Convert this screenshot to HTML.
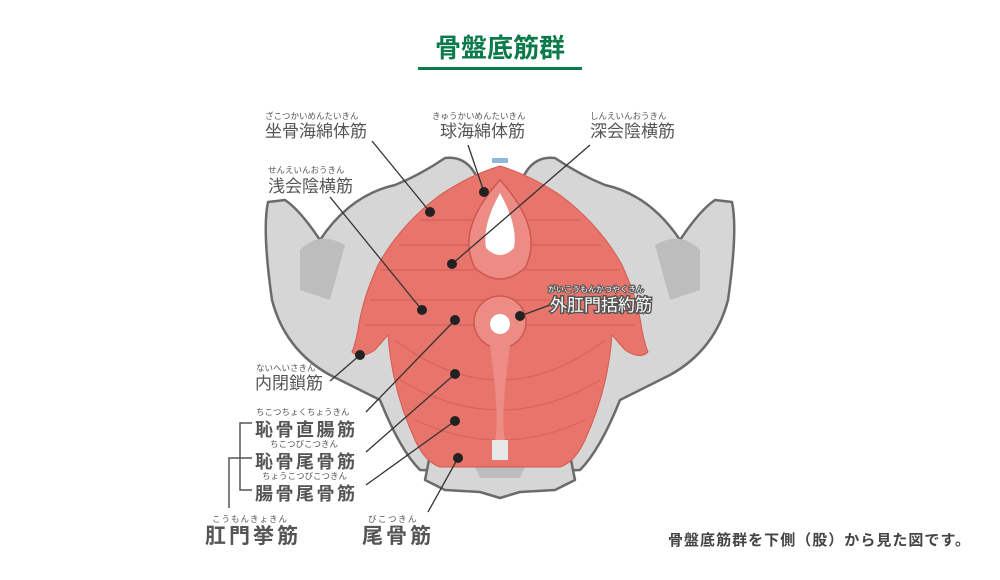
<!DOCTYPE html>
<html><head><meta charset="utf-8"><style>
html,body{margin:0;padding:0;background:#fff;}
svg{display:block;font-family:"Liberation Sans","Noto Sans CJK JP",sans-serif;}
</style></head><body>
<svg width="1000" height="580" viewBox="0 0 1000 580" xmlns="http://www.w3.org/2000/svg">
<text x="500" y="57" text-anchor="middle" font-size="26" font-weight="bold" fill="#0b7a4b">骨盤底筋群</text>
<rect x="418" y="67" width="164" height="3" fill="#0b7a4b"/>

<!-- bones -->
<g fill="#d6d6d6" stroke="#6b6b6b" stroke-width="2.5" stroke-linejoin="round">
  <path d="M268,202 Q262,230 272,300 Q285,350 330,375 L380,400 Q400,450 420,470 L470,472 L470,440 L400,300 L420,230 L480,185 Q470,155 445,158 Q420,175 395,185 Q350,195 320,240 Q300,210 285,200 Z"/>
  <path d="M732,202 Q738,230 728,300 Q715,350 670,375 L620,400 Q600,450 580,470 L530,472 L530,440 L600,300 L580,230 L520,185 Q530,155 555,158 Q580,175 605,185 Q650,195 680,240 Q700,210 715,200 Z"/>
  <path d="M430,455 L570,455 L575,480 L555,490 L520,492 L500,498 L480,492 L445,490 L425,480 Z"/>
</g>
<g fill="#bdbdbd" stroke="none">
  <path d="M300,250 Q320,230 345,245 L330,300 L300,290 Z"/>
  <path d="M700,250 Q680,230 655,245 L670,300 L700,290 Z"/>
  <path d="M470,455 L530,455 L520,478 L480,478 Z"/>
</g>
<rect x="492" y="158" width="16" height="5" fill="#8fb8d8"/>

<!-- muscle -->
<path d="M500,166 Q470,175 440,195 Q400,225 378,265 Q362,300 358,330 Q355,345 352,352 Q360,360 375,350 L388,335 Q392,390 415,440 Q425,462 440,467 L560,467 Q575,462 585,440 Q608,390 612,335 L625,350 Q640,360 648,352 Q645,345 642,330 Q638,300 622,265 Q600,225 560,195 Q530,175 500,166 Z" fill="#e8756c" stroke="#d65a50" stroke-width="1"/>
<g fill="none" stroke="#d45a52" stroke-width="1.2" opacity="0.7">
  <path d="M380,270 L620,270"/><path d="M370,300 L630,300"/><path d="M365,325 L635,325"/>
  <path d="M395,340 Q500,420 605,340"/><path d="M400,380 Q500,440 600,380"/><path d="M415,420 Q500,460 585,420"/>
  <path d="M420,220 L580,220"/><path d="M400,245 L600,245"/>
</g>
<path d="M500,180 Q455,230 475,268 Q500,290 525,268 Q545,230 500,180 Z" fill="#ec8c84" stroke="#cf564e" stroke-width="1.5"/>
<circle cx="500" cy="322" r="26" fill="#ec8c84" stroke="#cf564e" stroke-width="1.5"/>
<path d="M490,345 Q500,420 495,440 L505,440 Q500,420 510,345 Z" fill="#ec8c84"/>
<rect x="492" y="440" width="16" height="20" fill="#e8e8e8"/>
<path d="M500,193 Q482,225 486,248 Q500,262 514,248 Q518,225 500,193 Z" fill="#fff"/>
<circle cx="500" cy="324" r="10" fill="#fff"/>

<!-- leader lines -->
<g stroke="#333" stroke-width="1.3" fill="none">
  <line x1="372" y1="141" x2="430" y2="212"/>
  <line x1="468" y1="145" x2="484" y2="192"/>
  <line x1="590" y1="145" x2="452" y2="264"/>
  <line x1="330" y1="197" x2="422" y2="310"/>
  <line x1="550" y1="305" x2="520" y2="316"/>
  <line x1="330" y1="381" x2="360" y2="355"/>
  <line x1="366" y1="412" x2="455" y2="320"/>
  <line x1="366" y1="452" x2="455" y2="374"/>
  <line x1="366" y1="485" x2="455" y2="421"/>
  <line x1="428" y1="512" x2="458" y2="458"/>
</g>
<g fill="#222">
  <circle cx="430" cy="212" r="5"/><circle cx="484" cy="192" r="5"/><circle cx="452" cy="264" r="5"/>
  <circle cx="422" cy="310" r="5"/><circle cx="520" cy="316" r="5"/><circle cx="360" cy="355" r="5"/>
  <circle cx="455" cy="320" r="5"/><circle cx="455" cy="374" r="5"/><circle cx="455" cy="421" r="5"/>
  <circle cx="458" cy="458" r="5"/>
</g>
<!-- bracket -->
<g stroke="#555" stroke-width="1.5" fill="none">
  <path d="M252,423 L240,423 L240,490 L252,490"/>
  <path d="M252,458 L229,458 L229,508"/>
</g>

<!-- labels -->
<g fill="#555">
  <text x="265" y="119" font-size="8.5">ざこつかいめんたいきん</text>
  <text x="265" y="137" font-size="17">坐骨海綿体筋</text>
  <text x="432" y="119" font-size="8.5">きゅうかいめんたいきん</text>
  <text x="440" y="137" font-size="17">球海綿体筋</text>
  <text x="590" y="119" font-size="8.5">しんえいんおうきん</text>
  <text x="590" y="137" font-size="17">深会陰横筋</text>
  <text x="268" y="173" font-size="8.5">せんえいんおうきん</text>
  <text x="268" y="192" font-size="17">浅会陰横筋</text>
  <text x="548" y="292" font-size="8" fill="#fff" stroke="#555" stroke-width="2" paint-order="stroke">がいこうもんかつやくきん</text>
  <text x="550" y="311" font-size="17" fill="#fff" stroke="#555" stroke-width="3" paint-order="stroke">外肛門括約筋</text>
  <text x="256" y="371" font-size="8.5">ないへいさきん</text>
  <text x="255" y="389" font-size="17">内閉鎖筋</text>
  <text x="256" y="415" font-size="8.5">ちこつちょくちょうきん</text>
  <text x="255" y="436" font-size="18" font-weight="bold" letter-spacing="2.5">恥骨直腸筋</text>
  <text x="270" y="447" font-size="8.5">ちこつびこつきん</text>
  <text x="255" y="468" font-size="18" font-weight="bold" letter-spacing="2.5">恥骨尾骨筋</text>
  <text x="262" y="479" font-size="8.5">ちょうこつびこつきん</text>
  <text x="255" y="500" font-size="18" font-weight="bold" letter-spacing="2.5">腸骨尾骨筋</text>
  <text x="212" y="522" font-size="8.5" letter-spacing="1">こうもんきょきん</text>
  <text x="205" y="543" font-size="21" font-weight="bold" letter-spacing="3">肛門挙筋</text>
  <text x="368" y="522" font-size="8.5" letter-spacing="1.5">びこつきん</text>
  <text x="362" y="543" font-size="21" font-weight="bold" letter-spacing="3">尾骨筋</text>
</g>
<text x="668" y="545" font-size="15" font-weight="bold" fill="#444" textLength="302" lengthAdjust="spacing">骨盤底筋群を下側（股）から見た図です。</text>
</svg>
</body></html>
